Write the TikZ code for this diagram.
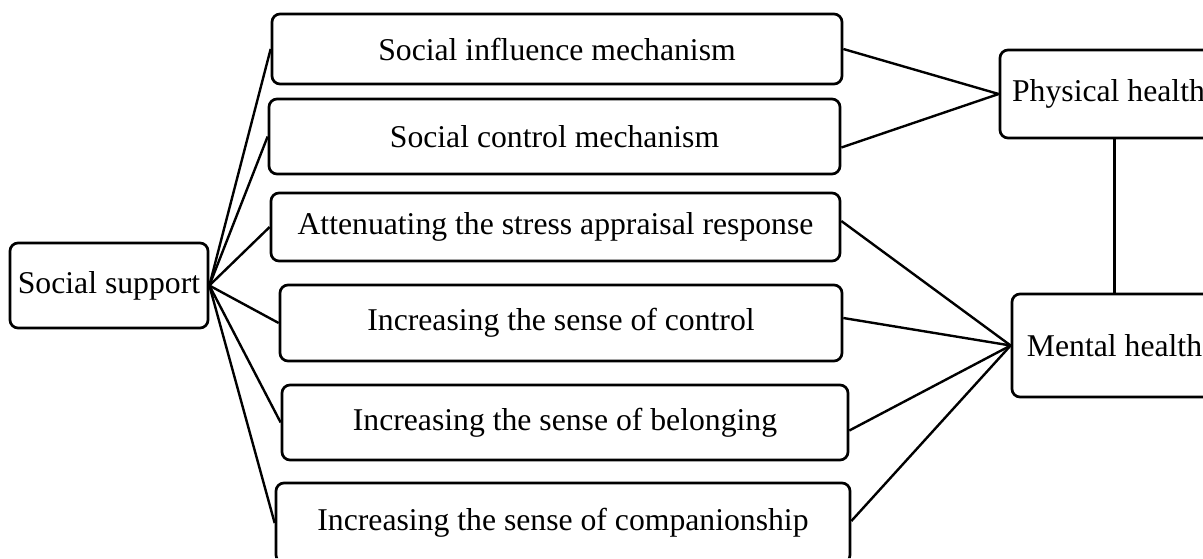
\documentclass[tikz,border=0pt]{standalone}
\usepackage{fontspec}
\setmainfont{Liberation Serif}
\usepackage{tikz}

\begin{document}
\begin{tikzpicture}[
            x = 1pt, y = -1pt, % one unit per pixel, y downwards
            line width = 2.4pt, % line style
            rounded corners = 8pt
        ]

        \tikzstyle{box}=[
            draw = black,
            line width = 2.7pt,
            fill = white,
            inner sep = 0pt,
            align = center,
            font = \fontsize{31.7}{38}\selectfont
        ]
\clip (0,0) rectangle (1203,558);

\node[box, minimum width=198pt, minimum height=85pt] (SS) at (109,285.5) {Social support};

\node[box, minimum width=570pt, minimum height=70pt] (SI) at (557,49) {Social influence mechanism};
\node[box, minimum width=571pt, minimum height=75pt] (SC) at (554.5,136.5) {Social control mechanism};
\node[box, minimum width=569pt, minimum height=68pt] (AS) at (555.5,227) {Attenuating the stress appraisal response};
\node[box, minimum width=562pt, minimum height=76pt] (IC) at (561,323) {Increasing the sense of control};
\node[box, minimum width=566pt, minimum height=75pt] (IB) at (565,422.5) {Increasing the sense of belonging};
\node[box, minimum width=574pt, minimum height=80pt] (ICo) at (563,523) {Increasing the sense of companionship};

\node[box, minimum width=217pt, minimum height=88pt] (PH) at (1108.5,94) {Physical health};
\node[box, minimum width=205pt, minimum height=103pt] (MH) at (1114.5,345.5) {Mental health};

 \path (SS.east) edge (SI.west);
 \path (SS.east) edge (SC.west);
 \path (SS.east) edge (AS.west);
 \path (SS.east) edge (IC.west);
 \path (SS.east) edge (IB.west);
 \path (SS.east) edge (ICo.west);

 \path (SI.east) edge (PH.west);
 \path ([yshift=-11pt]SC.east) edge (PH.west);

 \path ([yshift=6pt]AS.east) edge (MH.west);
 \path ([yshift=5pt]IC.east) edge (MH.west);
 \path ([yshift=-8pt]IB.east) edge (MH.west);
 \path ([yshift=2pt]ICo.east) edge (MH.west);

 \path (MH.north) edge (MH.north |- PH.south);
\end{tikzpicture}
\end{document}
